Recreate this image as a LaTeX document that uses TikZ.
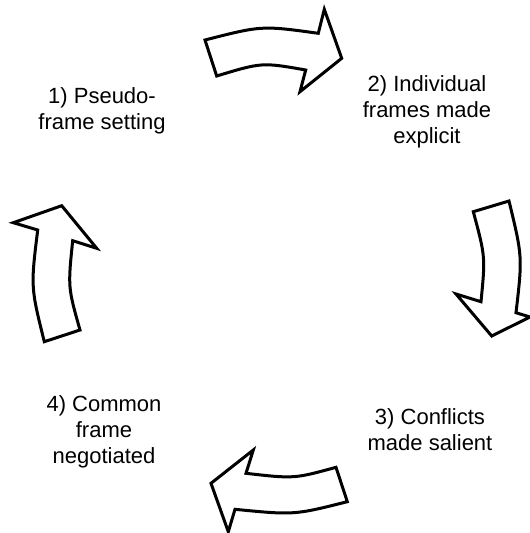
\documentclass[tikz,border=0pt]{standalone}
\usepackage{fontspec}
\setmainfont{Liberation Sans}
\begin{document}
\begin{tikzpicture}[x=1pt,y=-1pt,
  cyclearrow/.style={draw=black,fill=white,line width=3pt,line join=miter},
  stage/.style={align=center,font=\fontsize{22}{26}\selectfont,inner sep=0pt}]
\useasboundingbox (0,0) rectangle (530,533);

% stage labels
\node[stage] (s1) at (102,111) {1) Pseudo-\\frame setting};
\node[stage] (s2) at (427,112) {2) Individual\\frames made\\explicit};
\node[stage] (s3) at (430,430) {3) Conflicts\\made salient};
\node[stage] (s4) at (104,432) {4) Common\\frame\\negotiated};

% curved block arrows between the stages
\draw[cyclearrow] (205,40) .. controls (261.7,25.5) .. (318.3,33.3)
  -- (324.3,9.3) -- (341.7,58.3) -- (300,91.7) -- (305.7,70)
  .. controls (261.9,62.3) .. (216.7,76) -- cycle;

\draw[cyclearrow] (473.3,211.7) -- (509,201)
  .. controls (522.5,256.7) .. (516,312.7)
  -- (530,317) -- (491.7,336) -- (456,294) -- (481,301.7)
  .. controls (485.4,256.7) .. cycle;

\draw[cyclearrow] (336,467.3) -- (347.3,501.7)
  .. controls (294,515.1) .. (235,509.3)
  -- (228.3,531.7) -- (211,483.3) -- (253.3,450) -- (246,473.3)
  .. controls (294.1,478.8) .. cycle;

\draw[cyclearrow] (44.3,341.7) -- (80,330)
  .. controls (67.9,287.2) .. (72.7,240.7)
  -- (96.7,248.3) -- (61.7,205.7) -- (13.3,222.7) -- (37.7,230)
  .. controls (30.7,287) .. cycle;
\end{tikzpicture}
\end{document}
